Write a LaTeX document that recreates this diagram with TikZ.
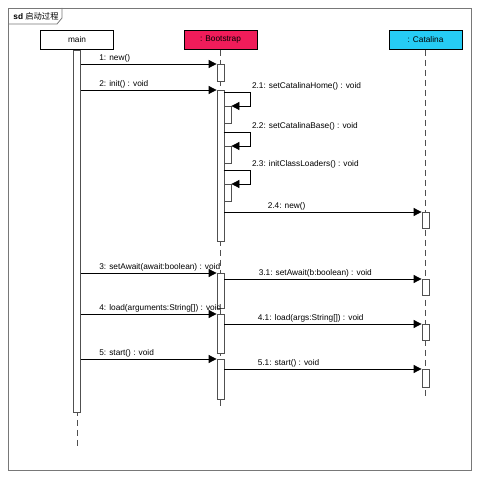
\documentclass[tikz,border=0pt]{standalone}
\usepackage{fontspec}
\setmainfont{Liberation Sans}
\newfontfamily\cjk{Noto Sans CJK SC}
\usetikzlibrary{arrows.meta}
\definecolor{bootred}{RGB}{240,28,90}
\definecolor{catblue}{RGB}{38,204,245}
\definecolor{framegray}{RGB}{120,120,120}
\definecolor{bargray}{RGB}{80,80,80}

\begin{document}
\begin{tikzpicture}[x=1pt,y=-1pt,line width=0.8pt,font=\fontsize{8.3}{10}\selectfont]

        \useasboundingbox (0,0) rectangle (479,478);

        \draw[framegray] (8,8) rectangle (471,470);
        \draw[framegray] (8,24) -- (57,24) -- (62,18) -- (62,8);
        \node[anchor=west,inner sep=0pt] (tag) at (13,16) {\textbf{sd} {\cjk 启动过程}};

        \begin{scope}[every node/.style={draw=black,minimum width=73,minimum height=19,inner sep=0pt,anchor=north}]
          \node (main) at (77,30)                  {main};
          \node[fill=bootred] (boot) at (220.5,30) {: Bootstrap};
          \node[fill=catblue] (cata) at (425.5,30) {: Catalina};
        \end{scope}

        \coordinate (mainend) at (77,448);
        \coordinate (bootend) at (220.5,408);
        \coordinate (cataend) at (425.5,398);

        \begin{scope}[every path/.style={draw=bargray,dash pattern=on 6pt off 4pt}]
          \path (main.south) -- (mainend);
          \path (boot.south) -- (bootend);
          \path (cata.south) -- (cataend);
        \end{scope}

        \begin{scope}[every node/.style={draw=bargray,fill=white,minimum width=7,inner sep=0pt,anchor=north}]
          \node[minimum height=362] (mbar) at (77,50)    {};
          \node[minimum height=17]  (b1)   at (220.5,64) {};
          \node[minimum height=151] (b2)   at (220.5,90) {};
          \node[minimum height=17]  (n21)  at (227.5,106) {};
          \node[minimum height=17]  (n22)  at (227.5,146) {};
          \node[minimum height=17]  (n23)  at (227.5,184) {};
          \node[minimum height=35]  (b3)   at (220.5,273) {};
          \node[minimum height=39]  (b4)   at (220.5,314) {};
          \node[minimum height=40]  (b5)   at (220.5,359) {};
          \node[minimum height=16]  (c1)   at (425.5,212) {};
          \node[minimum height=16]  (c2)   at (425.5,279) {};
          \node[minimum height=16]  (c3)   at (425.5,324) {};
          \node[minimum height=18]  (c4)   at (425.5,369) {};
        \end{scope}

        \begin{scope}[every node/.style={anchor=south west,inner sep=1pt},
                      every edge/.style={draw=black,-{Triangle[length=8pt,width=8pt]}}]
          \path (mbar.east |- b1.north) edge node[pos=0,xshift=17] {1: new()} (b1.north west);
          \path (mbar.east |- b2.north) edge node[pos=0,xshift=17] {2: init() : void} (b2.north west);
          \path (b2.east |- c1.north)   edge node[pos=0,xshift=42] {2.4: new()} (c1.north west);
          \path (mbar.east |- b3.north) edge node[pos=0,xshift=17] {3: setAwait(await:boolean) : void} (b3.north west);
          \path (b3.east |- c2.north)   edge node[pos=0,xshift=33] {3.1: setAwait(b:boolean) : void} (c2.north west);
          \path (mbar.east |- b4.north) edge node[pos=0,xshift=17] {4: load(arguments:String[]) : void} (b4.north west);
          \path (b4.east |- c3.north)   edge node[pos=0,xshift=32] {4.1: load(args:String[]) : void} (c3.north west);
          \path (mbar.east |- b5.north) edge node[pos=0,xshift=17] {5: start() : void} (b5.north west);
          \path (b5.east |- c4.north)   edge node[pos=0,xshift=32] {5.1: start() : void} (c4.north west);

          \begin{scope}[-{Triangle[length=8pt,width=8pt]}]
            \draw ([yshift=14]n21.north west) -- ++(27,0) node {2.1: setCatalinaHome() : void} |- (n21.north east);
            \draw ([yshift=14]n22.north west) -- ++(27,0) node {2.2: setCatalinaBase() : void} |- (n22.north east);
            \draw ([yshift=14]n23.north west) -- ++(27,0) node {2.3: initClassLoaders() : void} |- (n23.north east);
          \end{scope}
        \end{scope}

      \end{tikzpicture}
\end{document}
